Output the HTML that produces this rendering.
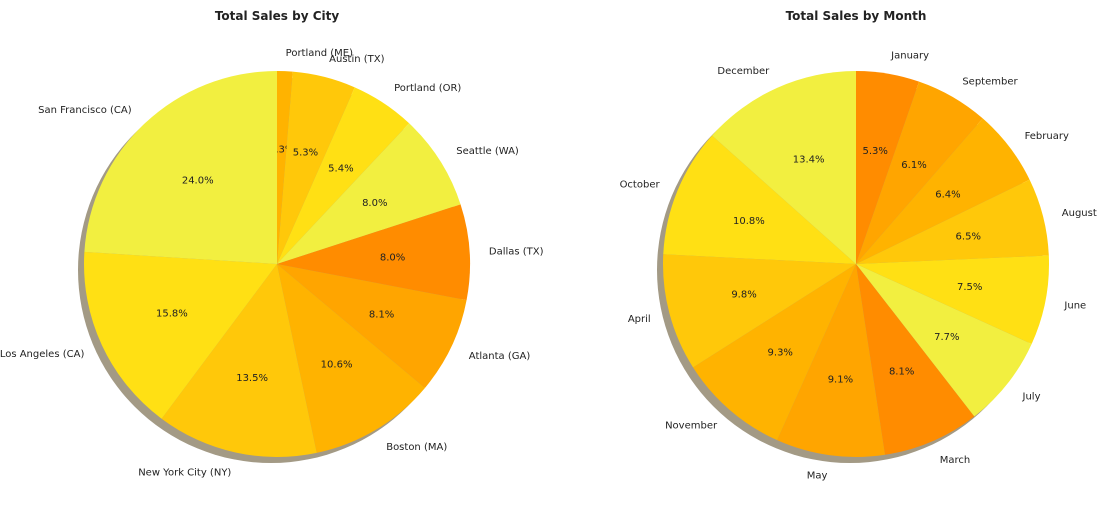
<!DOCTYPE html>
<html><head><meta charset="utf-8"><style>
body{margin:0;background:#fff;width:1109px;height:520px;overflow:hidden}
svg text{font-family:"DejaVu Sans","Liberation Sans",sans-serif;font-size:10px;fill:#222}
</style></head><body>
<svg id="chart" width="1109" height="520" xmlns="http://www.w3.org/2000/svg">
<text x="277" y="20" text-anchor="middle" style="font-weight:bold;font-size:12px">Total Sales by City</text>
<text x="856" y="20" text-anchor="middle" style="font-weight:bold;font-size:12px">Total Sales by Month</text>
</svg>
<script>
const cityLabels=["Portland (ME)","Austin (TX)","Portland (OR)","Seattle (WA)","Dallas (TX)","Atlanta (GA)","Boston (MA)","New York City (NY)","Los Angeles (CA)","San Francisco (CA)"];
const cityValues=[1.3,5.3,5.4,8.0,8.0,8.1,10.6,13.5,15.8,24.0];
const monthLabels=["January","September","February","August","June","July","March","May","November","April","October","December"];
const monthValues=[5.3,6.1,6.4,6.5,7.5,7.7,8.1,9.1,9.3,9.8,10.8,13.4];
const palette=["#FF8C00","#FFA500","#FFB300","#FFC80A","#FFE014","#F2EF40"];
const NS="http://www.w3.org/2000/svg";
const svg=document.getElementById('chart');
function pie(cx,cy,r,labels,values,colorOffset,prefix){
  const total=values.reduce((a,b)=>a+b,0);
  const sh=document.createElementNS(NS,'circle');
  
  
  sh.setAttribute('cx',cx-6);sh.setAttribute('cy',cy+6);sh.setAttribute('r',r);sh.setAttribute('fill','#a39a85');
  svg.appendChild(sh);
  let a=0;
  const pt=(ang,rr)=>[cx+rr*Math.sin(ang),cy-rr*Math.cos(ang)];
  values.forEach((v,i)=>{
    const a0=a,a1=a+v/total*2*Math.PI;a=a1;
    const [x0,y0]=pt(a0,r),[x1,y1]=pt(a1,r);
    const large=(a1-a0)>Math.PI?1:0;
    const p=document.createElementNS(NS,'path');
    
    
    p.setAttribute('d',`M${cx},${cy}L${x0},${y0}A${r},${r} 0 ${large} 1 ${x1},${y1}Z`);
    p.setAttribute('fill',palette[(i+colorOffset)%palette.length]);
    svg.appendChild(p);
    const m=(a0+a1)/2;
    const [lx,ly]=pt(m,r*1.1);
    const t=document.createElementNS(NS,'text');
    
    
    t.setAttribute('x',lx);t.setAttribute('y',ly+4);
    t.setAttribute('text-anchor',Math.sin(m)>=0?'start':'end');
    t.textContent=labels[i];svg.appendChild(t);
    const [px,py]=pt(m,r*0.6);
    const q=document.createElementNS(NS,'text');
    
    
    q.setAttribute('x',px);q.setAttribute('y',py+4);q.setAttribute('text-anchor','middle');
    q.textContent=(v/total*100).toFixed(1)+'%';svg.appendChild(q);
  });
}
pie(277,264,193,cityLabels,cityValues,2,'city');
pie(856,264,193,monthLabels,monthValues,0,'month');
</script>
</body></html>
